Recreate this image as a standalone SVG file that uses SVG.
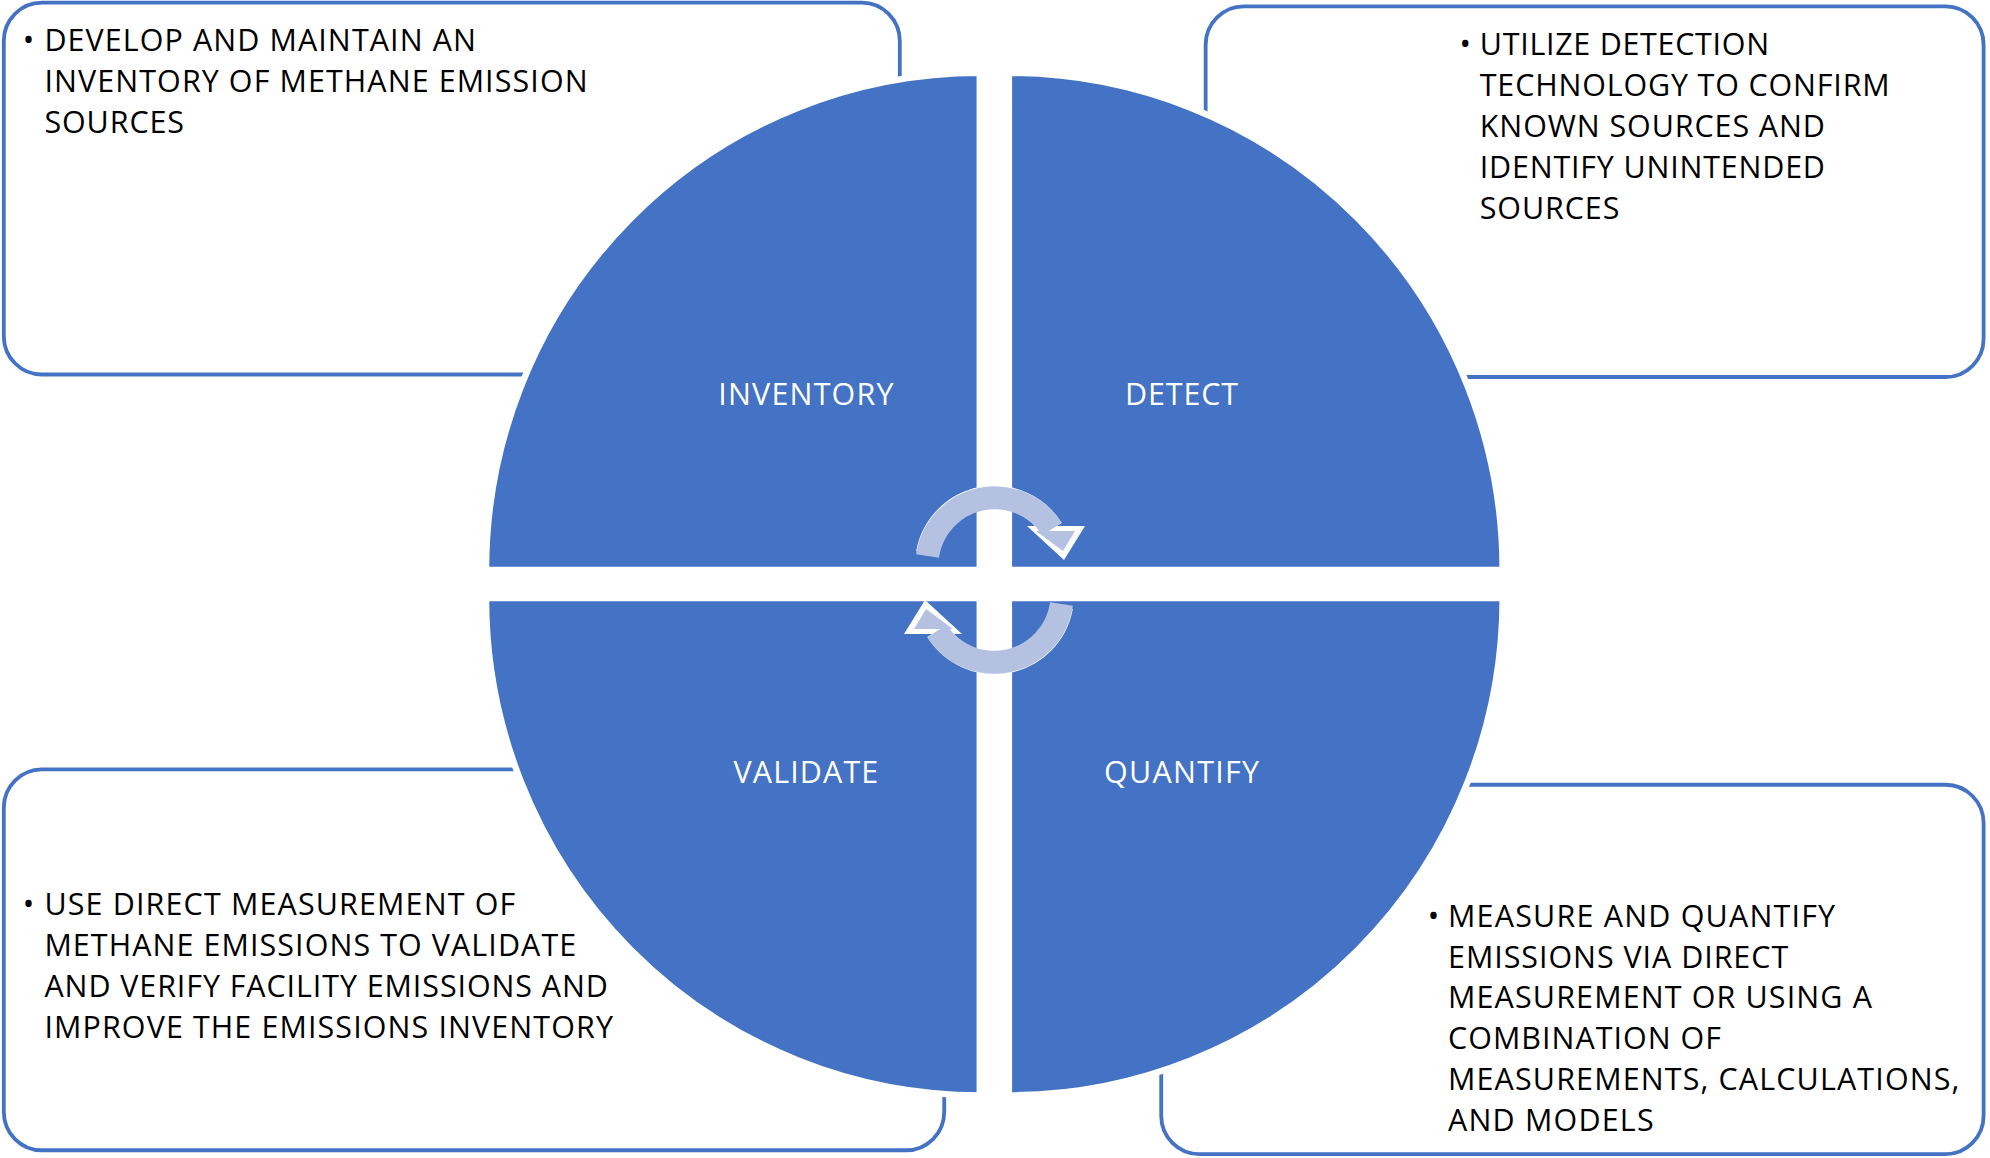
<svg xmlns="http://www.w3.org/2000/svg" width="1990" height="1158" viewBox="0 0 1990 1158">
<style>
.box{fill:#fff;stroke:#4472C4;stroke-width:3}
.q{fill:#4472C4;stroke:#fff;stroke-width:5}
.t{font-family:"Open Sans",sans-serif;font-size:24px;fill:#000}
.l{font-family:"Open Sans",sans-serif;font-size:24px;fill:#fff;text-anchor:middle}
.arc{fill:none;stroke-width:23}
</style>
<rect width="1990" height="1158" fill="#fff"/>
<g transform="scale(1.2691,1.2781)">
<g id="box-inventory"><rect class="box" x="3" y="2" width="706" height="291" rx="30"/>
<text class="t"><tspan x="18" y="40">•</tspan><tspan x="35" y="40" textLength="340">DEVELOP AND MAINTAIN AN</tspan><tspan x="35" y="72" textLength="428">INVENTORY OF METHANE EMISSION</tspan><tspan x="35" y="104" textLength="110">SOURCES</tspan></text></g>
<g id="box-detect"><rect class="box" x="950" y="5" width="613" height="290" rx="30"/>
<text class="t"><tspan x="1150" y="43">•</tspan><tspan x="1166" y="43" textLength="228">UTILIZE DETECTION</tspan><tspan x="1166" y="75" textLength="323">TECHNOLOGY TO CONFIRM</tspan><tspan x="1166" y="107" textLength="272">KNOWN SOURCES AND</tspan><tspan x="1166" y="139" textLength="272">IDENTIFY UNINTENDED</tspan><tspan x="1166" y="171" textLength="110">SOURCES</tspan></text></g>
<g id="box-validate"><rect class="box" x="3" y="602" width="741" height="298" rx="30"/>
<text class="t"><tspan x="18" y="716">•</tspan><tspan x="35" y="716" textLength="371">USE DIRECT MEASUREMENT OF</tspan><tspan x="35" y="748" textLength="419">METHANE EMISSIONS TO VALIDATE</tspan><tspan x="35" y="780" textLength="444">AND VERIFY FACILITY EMISSIONS AND</tspan><tspan x="35" y="812" textLength="448">IMPROVE THE EMISSIONS INVENTORY</tspan></text></g>
<g id="box-quantify"><rect class="box" x="915" y="614" width="648" height="289" rx="30"/>
<text class="t"><tspan x="1125" y="725">•</tspan><tspan x="1141" y="725" textLength="305">MEASURE AND QUANTIFY</tspan><tspan x="1141" y="757" textLength="268">EMISSIONS VIA DIRECT</tspan><tspan x="1141" y="789" textLength="334">MEASUREMENT OR USING A</tspan><tspan x="1141" y="821" textLength="215">COMBINATION OF</tspan><tspan x="1141" y="853" textLength="403">MEASUREMENTS, CALCULATIONS,</tspan><tspan x="1141" y="885" textLength="162">AND MODELS</tspan></text></g>
<g id="inventory"><path class="q" d="M772,446 L383,446 A389,389 0 0 1 772,57 Z"/><text class="l" x="635" y="317" textLength="138">INVENTORY</text></g>
<g id="detect"><path class="q" d="M795,446 L795,57 A389,389 0 0 1 1184,446 Z"/><text class="l" x="931" y="317" textLength="89">DETECT</text></g>
<g id="quantify"><path class="q" d="M795,468 L1184,468 A389,389 0 0 1 795,857 Z"/><text class="l" x="931" y="613" textLength="122">QUANTIFY</text></g>
<g id="validate"><path class="q" d="M772,468 L772,857 A389,389 0 0 1 383,468 Z"/><text class="l" x="635" y="613" textLength="114">VALIDATE</text></g>
</g>
<g id="connectors">
<g id="cycle-top">
<path class="arc" stroke="#fff" stroke-width="31" d="M927.5,553 A68,68 0 0 1 1052,529"/>
<polygon points="1027,526 1085,526 1064,560" fill="#fff"/>
<path class="arc" stroke="#B4C1E1" d="M927.5,556 A68,68 0 0 1 1052,529"/>
<polygon points="1036,531 1075,531 1063,551" fill="#B4C1E1"/>
</g>
<g id="cycle-bottom" transform="rotate(180 994.5 580)">
<path class="arc" stroke="#fff" stroke-width="31" d="M927.5,553 A68,68 0 0 1 1052,529"/>
<polygon points="1027,526 1085,526 1064,560" fill="#fff"/>
<path class="arc" stroke="#B4C1E1" d="M927.5,556 A68,68 0 0 1 1052,529"/>
<polygon points="1036,531 1075,531 1063,551" fill="#B4C1E1"/>
</g>
</g>
</svg>
